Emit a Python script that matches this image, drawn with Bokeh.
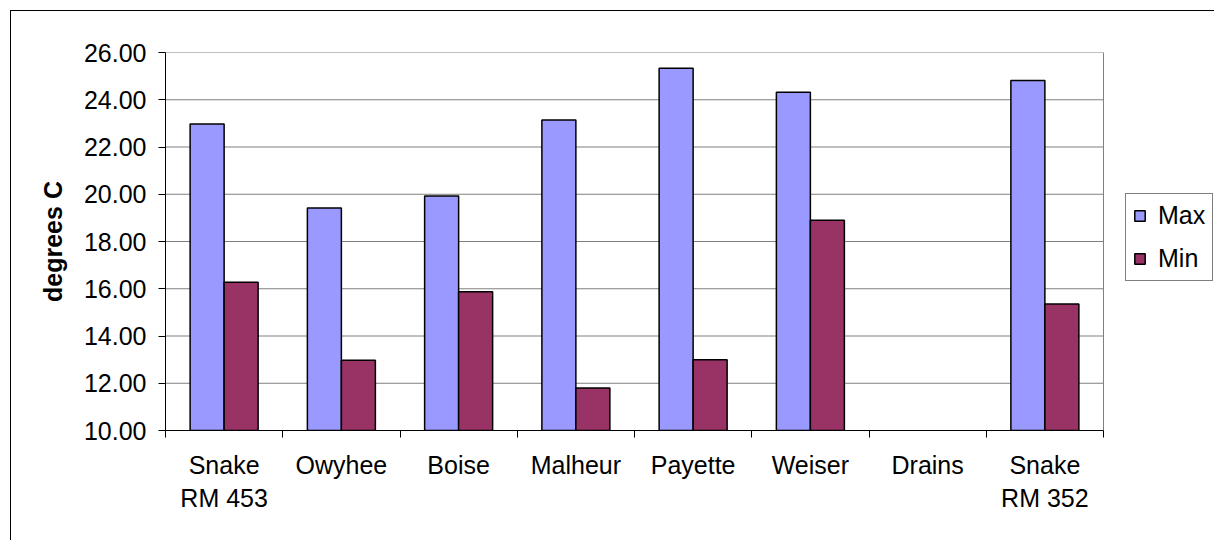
import numpy as np
from bokeh.plotting import figure
from bokeh.models import (Range1d, FixedTicker, Legend, LegendItem, ColumnDataSource,
                          NumeralTickFormatter)
from bokeh.transform import dodge
from bokeh.embed import file_html
from bokeh.resources import INLINE

# ---- data ----
categories = ["Snake\nRM 453", "Owyhee", "Boise", "Malheur", "Payette", "Weiser", "Drains", "Snake\nRM 352"]
max_temp = [22.97, 19.42, 19.93, 23.14, 25.33, 24.32, np.nan, 24.82]
min_temp = [16.27, 12.97, 15.87, 11.80, 12.99, 18.90, np.nan, 15.35]
y_ticks = [10, 12, 14, 16, 18, 20, 22, 24, 26]
y_label = "degrees C"
series_names = ["Max", "Min"]

FONT = "Liberation Sans"
FS = "25px"

W, H = 1214, 540
LEFT, TOP = 165, 52
PLOT_W, PLOT_H = 938, 378          # drawn plot area (inner)
FRAME_W = W - LEFT                 # frame extends to the right edge to host legend

n = len(categories)
centers = [i + 0.5 for i in range(n)]
bounds = list(range(n + 1))
x_end = n * FRAME_W / PLOT_W

src = ColumnDataSource(dict(x=centers, mx=max_temp, mn=min_temp))
grid_src = ColumnDataSource(dict(x0=[0] * len(y_ticks), x1=[n] * len(y_ticks),
                                 y=y_ticks))

p = figure(width=W, height=H,
           x_range=Range1d(0, x_end), y_range=Range1d(y_ticks[0], y_ticks[-1]),
           output_backend="svg", toolbar_location=None,
           min_border_left=LEFT, min_border_right=0,
           min_border_top=TOP, min_border_bottom=H - TOP - PLOT_H)

p.background_fill_color = "white"
p.border_fill_color = None
p.outline_line_color = None
p.styles = {"background-color": "white",
            "box-shadow": "inset 10px 10px 0 0 white, inset 11px 11px 0 0 black"}

# gridlines and right border of the plot area
p.xgrid.grid_line_color = None
p.ygrid.grid_line_color = None
p.segment(x0="x0", y0="y", x1="x1", y1="y", source=grid_src,
          line_color="#808080", line_width=1)
p.segment(x0=[n], y0=[y_ticks[0]], x1=[n], y1=[y_ticks[-1]],
          line_color="#808080", line_width=1)

bw = 0.29
r_max = p.vbar(x=dodge("x", -bw / 2, range=p.x_range), top="mx", bottom=y_ticks[0], width=bw,
               source=src, fill_color="#9999FF", line_color="black", line_width=1.5)
r_min = p.vbar(x=dodge("x", bw / 2, range=p.x_range), top="mn", bottom=y_ticks[0], width=bw,
               source=src, fill_color="#993366", line_color="black", line_width=1.5)

# y axis
ya = p.yaxis[0]
ya.ticker = FixedTicker(ticks=y_ticks)
ya.formatter = NumeralTickFormatter(format="0.00")
ya.axis_line_color = "black"
ya.major_tick_line_color = "black"
ya.major_tick_out = 7
ya.major_tick_in = 0
ya.minor_tick_line_color = None
ya.major_label_text_font = FONT
ya.major_label_text_font_size = FS
ya.major_label_text_color = "black"
ya.major_label_standoff = 12
ya.axis_label = y_label
ya.axis_label_text_font = FONT
ya.axis_label_text_font_size = FS
ya.axis_label_text_font_style = "bold"
ya.axis_label_text_color = "black"
ya.axis_label_standoff = 14

# x axis
xa = p.xaxis[0]
xa.bounds = (0, n)
xa.ticker = FixedTicker(ticks=centers, minor_ticks=bounds)
xa.major_label_overrides = {c: lab for c, lab in zip(centers, categories)}
xa.axis_line_color = "black"
xa.major_tick_line_color = None
xa.major_tick_out = 7
xa.major_tick_in = 0
xa.minor_tick_line_color = "black"
xa.minor_tick_out = 7
xa.minor_tick_in = 0
xa.major_label_text_font = FONT
xa.major_label_text_font_size = FS
xa.major_label_text_color = "black"
xa.major_label_standoff = 13

# legend
legend = Legend(items=[LegendItem(label=series_names[0], renderers=[r_max]),
                       LegendItem(label=series_names[1], renderers=[r_min])],
                location=(960, 149))
legend.label_text_font = FONT
legend.label_text_font_size = FS
legend.label_text_color = "black"
legend.label_height = 28
legend.label_standoff = 12
legend.glyph_width = 13
legend.glyph_height = 13
legend.spacing = 14
legend.padding = 7
legend.margin = 0
legend.border_line_color = "black"
legend.border_line_width = 1
legend.background_fill_color = "white"
legend.background_fill_alpha = 1
p.add_layout(legend, "center")

open("out.html", "w").write(file_html(p, INLINE))
